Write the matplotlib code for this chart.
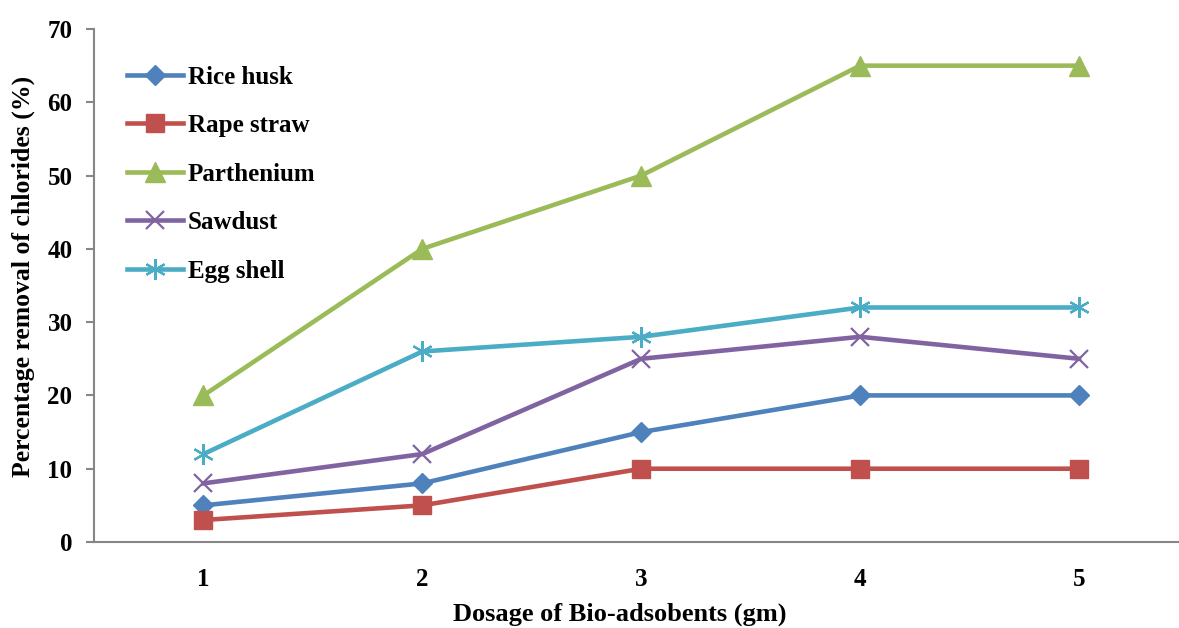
import matplotlib
matplotlib.use("Agg")
import matplotlib.pyplot as plt

dosage = [1, 2, 3, 4, 5]
x_ticks = ["1", "2", "3", "4", "5"]
rice_husk = [5, 8, 15, 20, 20]
rape_straw = [3, 5, 10, 10, 10]
parthenium = [20, 40, 50, 65, 65]
sawdust = [8, 12, 25, 28, 25]
egg_shell = [12, 26, 28, 32, 32]

plt.rcParams['font.family'] = ['Liberation Serif', 'DejaVu Serif']
plt.rcParams['font.weight'] = 'bold'

fig = plt.figure(figsize=(11.79, 6.28), dpi=100)
ax = fig.add_axes([94/1179, 1-542/628, 1-94/1179, (542-29)/628])

series = [
    ("Rice husk", rice_husk, "#4F81BD", dict(marker="D", markersize=10.5)),
    ("Rape straw", rape_straw, "#C0504D", dict(marker="s", markersize=13.5)),
    ("Parthenium", parthenium, "#9BBB59", dict(marker="^", markersize=15)),
    ("Sawdust", sawdust, "#8064A2", dict(marker="x", markersize=13, markeredgewidth=1.6)),
    ("Egg shell", egg_shell, "#4BACC6", dict(marker=(6, 2, 0), markersize=15, markeredgewidth=1.6)),
]
for name, vals, col, mk in series:
    ax.plot(dosage, vals, color=col, lw=3.3, label=name, clip_on=False, **mk)

ax.set_xlim(0.5, 0.5 + (1179 - 93.5) / 219)
ax.set_ylim(0, 70)
ax.set_yticks(range(0, 71, 10))
ax.set_xticks(dosage)
ax.set_xticklabels(x_ticks)
for s in ["top", "right"]:
    ax.spines[s].set_visible(False)
for s in ["left", "bottom"]:
    ax.spines[s].set_color("#868686")
    ax.spines[s].set_linewidth(1.5)
ax.tick_params(axis="y", length=5.5, width=1.5, color="#868686", labelsize=18, pad=10)
ax.tick_params(axis="x", length=0, labelsize=18, pad=19)
for lab in ax.get_xticklabels() + ax.get_yticklabels():
    lab.set_fontweight("bold")

ax.set_ylabel("Percentage removal of chlorides (%)", fontsize=18.5, fontweight="bold")
ax.yaxis.set_label_coords(-0.054, 0.517)
fig.text(620/1179, 1-614/628, "Dosage of Bio-adsobents (gm)", fontsize=19, fontweight="bold",
         ha="center", va="center")

leg = ax.legend(loc="upper left", bbox_to_anchor=(0.021, 0.948), frameon=False,
                prop=dict(size=18, weight="bold"), handlelength=2.24, handletextpad=0.2,
                labelspacing=1.02, borderaxespad=0)

fig.savefig("out.png", dpi=100)
